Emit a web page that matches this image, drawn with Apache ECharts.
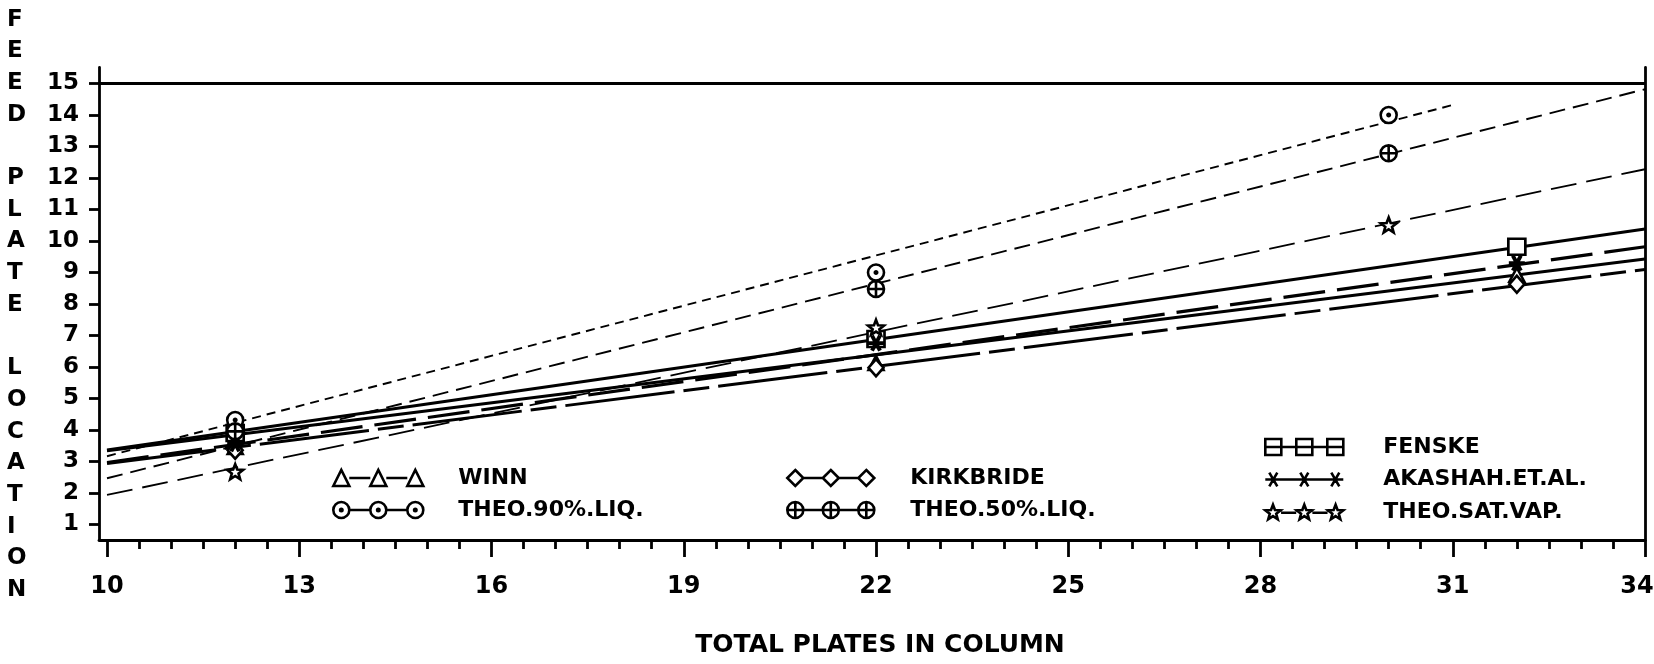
<!DOCTYPE html>
<html>
<head>
<meta charset="utf-8">
<script src="https://cdn.jsdelivr.net/npm/echarts@6/dist/echarts.min.js"></script>
<style>
html, body { margin: 0; padding: 0; background: #fff; }
#chart { width: 1654px; height: 664px; }
</style>
</head>
<body>
<div id="chart"></div>
<script>
// Fitted lines: value of each correlation at both ends of its line
const fitX = [10, 34];
const fitX90 = [10, 31];
const winnFit = [3.33, 9.42];
const kirkbrideFit = [2.93, 9.09];
const fenskeFit = [3.36, 10.37];
const akashahFit = [2.96, 9.81];
const theo90Fit = [3.16, 14.31];
const theo50Fit = [2.46, 14.81];
const theoSatFit = [1.93, 12.27];

// Plotted points
const correlX = [12, 22, 32];
const theoX = [12, 22, 30];
const winnPts = [3.45, 6.12, 8.92];
const kirkbridePts = [3.35, 5.97, 8.62];
const fenskePts = [3.90, 6.88, 9.81];
const akashahPts = [3.55, 6.75, 9.29];
const theo90Pts = [4.31, 8.99, 13.99];
const theo50Pts = [3.95, 8.47, 12.78];
const theoSatPts = [2.67, 7.25, 10.50];

// Axis ticks
const xTicks = [10, 13, 16, 19, 22, 25, 28, 31, 34];
const yTicks = [1, 2, 3, 4, 5, 6, 7, 8, 9, 10, 11, 12, 13, 14, 15];
const topFrameValue = 15;

const FONT = "'DejaVu Sans', 'Liberation Sans', sans-serif";

// half-unit minor ticks between the labelled ones
const xMinorTicks = [];
for (let v = xTicks[0]; v <= xTicks[xTicks.length - 1]; v += 0.5) {
  if (xTicks.indexOf(v) < 0) xMinorTicks.push(v);
}

function pts(xs, ys) { return xs.map((x, i) => [x, ys[i]]); }

function star(cx, cy, R, r) {
  let d = '';
  for (let i = 0; i < 10; i++) {
    const a = -Math.PI / 2 + i * Math.PI / 5;
    const rad = i % 2 ? r : R;
    d += (i ? 'L' : 'M') + (cx + rad * Math.cos(a)).toFixed(2) + ' ' + (cy + rad * Math.sin(a)).toFixed(2);
  }
  return d + 'Z';
}
function circle(cx, cy, r) {
  return `M${cx + r} ${cy}A${r} ${r} 0 1 1 ${cx - r} ${cy}A${r} ${r} 0 1 1 ${cx + r} ${cy}Z`;
}
function shape(kind, cx, cy, r) {
  switch (kind) {
    case 'tri': return `M${cx - r} ${cy + r}L${cx} ${cy - r}L${cx + r} ${cy + r}Z`;
    case 'dia': return `M${cx} ${cy - r}L${cx + r} ${cy}L${cx} ${cy + r}L${cx - r} ${cy}Z`;
    case 'sq': return `M${cx - r} ${cy - r}L${cx + r} ${cy - r}L${cx + r} ${cy + r}L${cx - r} ${cy + r}Z`;
    case 'cdot': return circle(cx, cy, r) + circle(cx, cy, r * 0.15);
    case 'cplus': return circle(cx, cy, r) + `M${cx - r} ${cy}L${cx + r} ${cy}M${cx} ${cy - r}L${cx} ${cy + r}`;
    case 'ast': return `M${cx - r} ${cy}L${cx + r} ${cy}M${cx - r * 0.5} ${cy - r * 0.87}L${cx + r * 0.5} ${cy + r * 0.87}M${cx - r * 0.5} ${cy + r * 0.87}L${cx + r * 0.5} ${cy - r * 0.87}`;
    case 'star': return star(cx, cy, r, r * 0.42);
  }
}
// legend sample: three markers joined by short strokes
function legendIcon(kind, w) {
  const r = 8, cy = 8, c = [r, w / 2, w - r];
  let d = `M${c[0] + r} ${cy}L${c[1] - r} ${cy}M${c[1] + r} ${cy}L${c[2] - r} ${cy}`;
  c.forEach(cx => { d += shape(kind, cx, cy, r); });
  if (kind === 'sq') c.forEach(cx => { d += `M${cx - r} ${cy}L${cx + r} ${cy}`; });
  return 'path://' + d;
}
function marker(kind) { return 'path://' + shape(kind, 0, 0, 8); }

const hollow = { color: '#fff', borderColor: '#000', borderWidth: 2.6, opacity: 1 };

const methods = [
  { name: 'WINN', kind: 'tri', px: correlX, py: winnPts, fx: fitX, fy: winnFit, line: { width: 3, type: 'solid' }, size: [15, 14] },
  { name: 'KIRKBRIDE', kind: 'dia', px: correlX, py: kirkbridePts, fx: fitX, fy: kirkbrideFit, line: { width: 3, type: [110, 9, 26, 9] }, size: [15, 17] },
  { name: 'FENSKE', kind: 'sq', px: correlX, py: fenskePts, fx: fitX, fy: fenskeFit, line: { width: 3, type: 'solid' }, size: [17, 16] },
  { name: 'AKASHAH.ET.AL.', kind: 'ast', px: correlX, py: akashahPts, fx: fitX, fy: akashahFit, line: { width: 3.2, type: [42, 12] }, size: [16, 15] },
  { name: 'THEO.90%.LIQ.', kind: 'cdot', px: theoX, py: theo90Pts, fx: fitX90, fy: theo90Fit, line: { width: 1.9, type: [9, 6] }, size: [16, 16] },
  { name: 'THEO.50%.LIQ.', kind: 'cplus', px: theoX, py: theo50Pts, fx: fitX, fy: theo50Fit, line: { width: 1.9, type: [16, 8] }, size: [16, 16] },
  { name: 'THEO.SAT.VAP.', kind: 'star', px: theoX, py: theoSatPts, fx: fitX, fy: theoSatFit, line: { width: 1.8, type: [26, 10] }, size: [16, 15] }
];

const series = [];
methods.forEach(m => {
  series.push({
    type: 'scatter', name: m.name, data: pts(m.px, m.py),
    symbol: marker(m.kind), symbolSize: m.size,
    itemStyle: Object.assign({}, hollow, m.kind === 'ast' ? { borderWidth: 3.8 } : {}),
    z: 5, silent: true
  });
});
methods.forEach((m, i) => {
  const s = {
    type: 'line', name: m.name, data: pts(m.fx, m.fy),
    showSymbol: false, symbol: 'none',
    lineStyle: Object.assign({ color: '#000', opacity: 1 }, m.line),
    itemStyle: { color: '#000' }, z: 2, silent: true
  };
  if (i === 0) {
    s.markLine = {
      silent: true, symbol: 'none', label: { show: false },
      lineStyle: { color: '#000', type: 'solid', width: 2.8, opacity: 1 },
      data: [{ yAxis: topFrameValue }]
    };
  }
  series.push(s);
});

const legendBase = {
  orient: 'vertical', padding: 0, itemHeight: 16, selectedMode: false,
  itemStyle: { color: '#fff', borderColor: '#000', borderWidth: 2.6, opacity: 1 },
  textStyle: { fontFamily: FONT, fontWeight: 'bold', fontSize: 22, lineHeight: 20, color: '#000' }
};
function legendAt(left, top, w, gap, textPad, names) {
  return Object.assign({}, legendBase, {
    left: left, top: top, itemWidth: w, itemGap: gap,
    textStyle: Object.assign({}, legendBase.textStyle, { padding: [0, 0, 0, textPad] }),
    data: names.map(n => ({ name: n, icon: legendIcon(methods.find(m => m.name === n).kind, w) }))
  });
}

const axisBlack = { color: '#000', width: 2.8 };
const tickFont = { color: '#000', fontFamily: FONT, fontWeight: 'bold' };

const option = {
  animation: false,
  backgroundColor: '#fff',
  grid: { left: 99, right: 9, top: 67.5, bottom: 124, outerBoundsMode: 'none', containLabel: false },
  xAxis: [
    {
      type: 'value', min: 9.875, max: 34, position: 'bottom',
      axisLine: { show: true, lineStyle: axisBlack },
      axisTick: { show: true, inside: false, length: 17, lineStyle: axisBlack, customValues: xTicks },
      axisLabel: Object.assign({
        show: true, customValues: xTicks, margin: 35, fontSize: 24,
        formatter: v => (v === xTicks[xTicks.length - 1] ? '{edge|' + v + '}' : String(v)),
        rich: { edge: Object.assign({ fontSize: 24, padding: [0, 16, 0, 0] }, tickFont) }
      }, tickFont),
      splitLine: { show: false }
    },
    {
      type: 'value', min: 9.875, max: 34, position: 'bottom',
      axisLine: { show: false },
      axisTick: { show: true, inside: false, length: 9, lineStyle: axisBlack, customValues: xMinorTicks },
      axisLabel: { show: false },
      splitLine: { show: false }
    }
  ],
  yAxis: [
    {
      type: 'value', min: 0.5, max: 15.5, position: 'left',
      axisLine: { show: true, lineStyle: axisBlack },
      axisTick: { show: true, inside: false, length: 10, lineStyle: axisBlack, customValues: yTicks },
      axisLabel: Object.assign({ show: true, customValues: yTicks, margin: 20, fontSize: 23 }, tickFont),
      splitLine: { show: false }
    },
    {
      type: 'value', min: 0.5, max: 15.5, position: 'right',
      axisLine: { show: true, lineStyle: axisBlack },
      axisTick: { show: false }, axisLabel: { show: false }, splitLine: { show: false }
    }
  ],
  legend: [
    legendAt(332, 467, 90, 10, 30, ['WINN', 'THEO.90%.LIQ.']),
    legendAt(786, 467, 87, 10, 31, ['KIRKBRIDE', 'THEO.50%.LIQ.']),
    legendAt(1264, 436, 78, 10.5, 35, ['FENSKE', 'AKASHAH.ET.AL.', 'THEO.SAT.VAP.'])
  ],
  graphic: [
    {
      type: 'text', left: 7, top: 4,
      style: {
        text: 'F\nE\nE\nD\n\nP\nL\nA\nT\nE\n\nL\nO\nC\nA\nT\nI\nO\nN',
        font: `bold 23px ${FONT}`, lineHeight: 31.67, fill: '#000', align: 'center'
      }
    },
    {
      type: 'text', x: 880, y: 645,
      style: {
        text: 'TOTAL PLATES IN COLUMN', font: `bold 25px ${FONT}`,
        fill: '#000', align: 'center', verticalAlign: 'middle'
      }
    }
  ],
  series: series
};

const chart = echarts.init(document.getElementById('chart'), null, { renderer: 'canvas' });
chart.setOption(option);
</script>
</body>
</html>
